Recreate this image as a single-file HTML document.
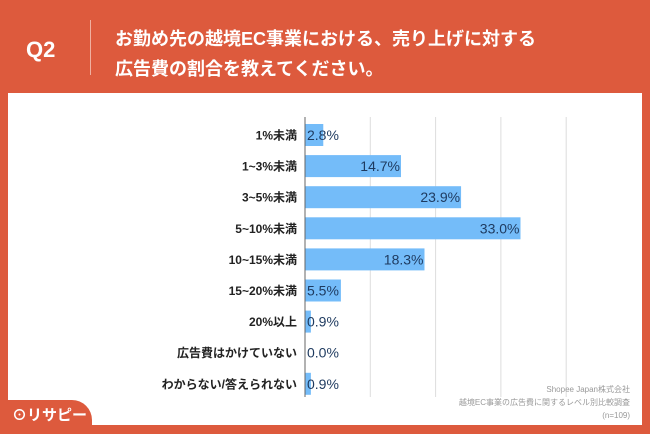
<!DOCTYPE html>
<html><head><meta charset="utf-8">
<style>
body{margin:0;width:650px;height:434px;background:#dd5a3d;position:relative;overflow:hidden;font-family:"Liberation Sans","Noto Sans CJK JP",sans-serif;}
#panel{position:absolute;left:8px;top:93px;width:634px;height:332px;background:#fff;}
#q{position:absolute;left:26px;top:37px;color:#fff;font-size:22px;font-weight:bold;}
#sep{position:absolute;left:90px;top:20px;width:1px;height:55px;background:#f0b0a0;}
#title{position:absolute;left:115px;top:24px;color:#fff;font-size:18px;font-weight:bold;line-height:30px;}
#tab{position:absolute;left:0;top:400px;width:92px;height:34px;background:#dd5a3d;border-top-right-radius:20px;}
#logo{position:absolute;left:12px;top:404px;color:#fff;font-size:15px;font-weight:bold;}
#src{position:absolute;right:20px;top:383px;color:#999;font-size:8px;text-align:right;line-height:13px;}
svg{position:absolute;left:0;top:0;}
</style></head><body>
<div id="panel"></div>
<div id="q">Q2</div>
<div id="sep"></div>
<div id="title">お勤め先の越境EC事業における、売り上げに対する<br>広告費の割合を教えてください。</div>
<svg id="chart" width="650" height="434"></svg>
<div id="src">Shopee Japan株式会社<br>越境EC事業の広告費に関するレベル別比較調査<br>(n=109)</div>
<div id="tab"></div>
<div id="logo">⊙リサピー</div>
<script>
const categories=["1%未満","1~3%未満","3~5%未満","5~10%未満","10~15%未満","15~20%未満","20%以上","広告費はかけていない","わからない/答えられない"];
const values=[2.8,14.7,23.9,33.0,18.3,5.5,0.9,0.0,0.9];
const gridTicks=[10,20,30,40];
const svg=document.getElementById('chart');
const NS='http://www.w3.org/2000/svg';
const x0=305,pxPer=6.53,y0=135,step=31.1,bh=22;
const X=v=>x0+v*pxPer, Y=i=>y0+i*step;
function mk(t,a){const e=document.createElementNS(NS,t);for(const k in a)e.setAttribute(k,a[k]);svg.appendChild(e);return e;}
gridTicks.forEach(t=>{const l=mk('line',{x1:X(t),x2:X(t),y1:117,y2:397,stroke:'#ddd','stroke-width':1});

});
categories.forEach((c,i)=>{
const w=Math.max(X(values[i])-x0,0);
const r=mk('rect',{x:x0,y:Y(i)-bh/2,width:w,height:bh,fill:'#74bcf9'});


const lb=mk('text',{x:297,y:Y(i)+4.5,'text-anchor':'end','font-size':'12','font-weight':'bold',fill:'#222'});
lb.textContent=c;


const inside=w>40;
const vt=mk('text',{x:inside?X(values[i])-1:x0+2,y:Y(i)+5,'text-anchor':inside?'end':'start','font-size':'14',fill:'#1e3a5f'});
vt.textContent=values[i].toFixed(1)+'%';


});
const ax=mk('line',{x1:x0,x2:x0,y1:117,y2:397,stroke:'#666','stroke-width':1});


</script>
</body></html>
